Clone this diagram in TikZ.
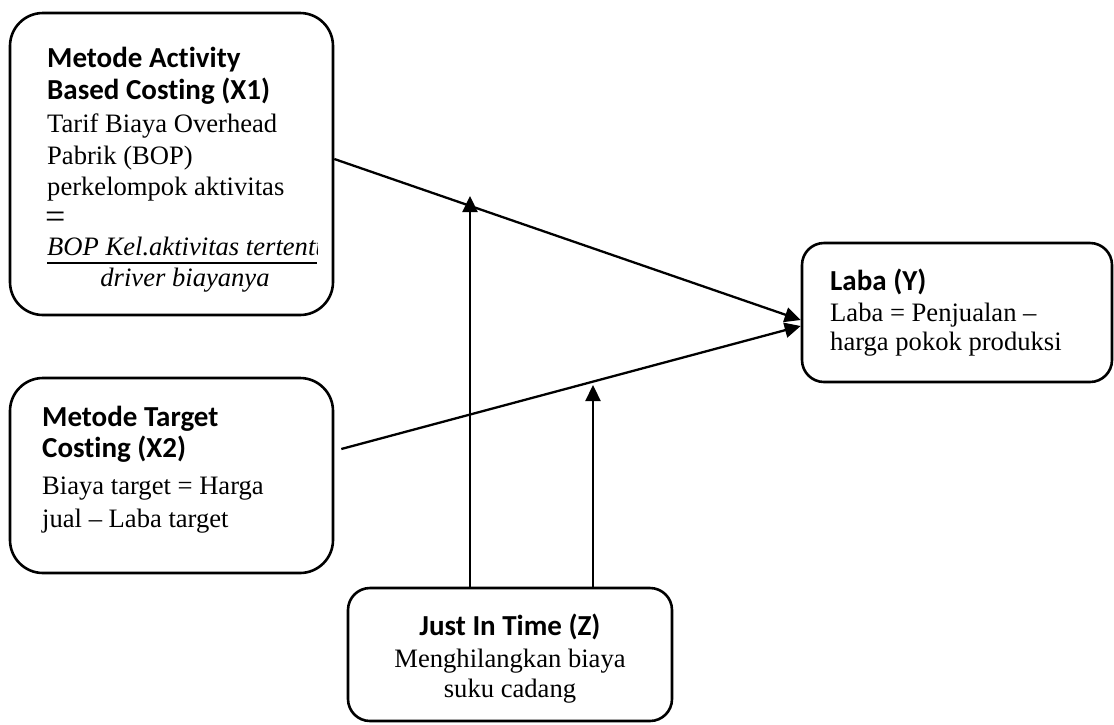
\documentclass[tikz,border=0pt]{standalone}
\usepackage{fontspec}
\setmainfont{Liberation Serif}
\newfontfamily\hdfont{Carlito}[Ligatures=NoCommon]
\usetikzlibrary{arrows.meta}
\tikzset{
  bigbox/.style={draw, line width=2.6pt, rounded corners=33pt, inner sep=0pt},
  smallbox/.style={draw, line width=2.6pt, rounded corners=22pt, inner sep=0pt},
  hd/.style={anchor=base west, inner sep=0pt, font=\hdfont\bfseries\fontsize{29}{32}\selectfont},
  hdc/.style={anchor=base, inner sep=0pt, font=\hdfont\bfseries\fontsize{29}{32}\selectfont},
  tx/.style={anchor=base west, inner sep=0pt, font=\fontsize{26.6}{32}\selectfont},
  txc/.style={anchor=base, inner sep=0pt, font=\fontsize{26.6}{32}\selectfont},
  fm/.style={inner sep=0pt, font=\itshape\fontsize{26.6}{32}\selectfont},
  link/.style={line width=2.3pt, -{Triangle[length=16pt,width=15pt]}},
}
\begin{document}
\begin{tikzpicture}[x=1pt, y=-1pt]
\useasboundingbox (0,0) rectangle (1114,724);
% boxes
\node[bigbox, minimum width=323pt, minimum height=302pt] (x1) at (171.5,164) {};
\node[bigbox, minimum width=323pt, minimum height=195pt] (x2) at (171.5,475.5) {};
\node[smallbox, minimum width=310pt, minimum height=139pt] (y) at (957,312.5) {};
\node[smallbox, minimum width=324pt, minimum height=133pt] (z) at (510,654.5) {};
% X1 text
\node[hd] (x1a) at (47,67) {Metode Activity};
\node[hd] (x1b) at (47,99) {Based Costing (X1)};
\node[tx] (x1c) at (47,132) {Tarif Biaya Overhead};
\node[tx] (x1d) at (47,164) {Pabrik (BOP)};
\node[tx] (x1e) at (47,195) {perkelompok aktivitas};
\node[anchor=base west, inner sep=0pt, font=\fontsize{36}{40}\selectfont] (x1eq) at (45,228) {=};
\begin{scope}
  \clip (40,228) rectangle (317,268);
  \node[fm, anchor=base west] (x1num) at (47,255) {BOP Kel.aktivitas tertentu};
\end{scope}
\draw[line width=2.2pt] (47,263) -- (317,263);
\node[fm, anchor=base] (x1den) at (185,286) {driver biayanya};
% X2 text
\node[hd] (x2a) at (42,426) {Metode Target};
\node[hd] (x2b) at (42,457) {Costing (X2)};
\node[tx] (x2c) at (42,494) {Biaya target = Harga};
\node[tx] (x2d) at (42,527) {jual – Laba target};
% Y text
\node[hd] (ya) at (830,290) {Laba (Y)};
\node[tx] (yb) at (830,321) {Laba = Penjualan –};
\node[tx] (yc) at (830,350) {harga pokok produksi};
% Z text
\node[hdc] (za) at (510,635) {Just In Time (Z)};
\node[txc] (zb) at (510,667) {Menghilangkan biaya};
\node[txc] (zc) at (510,697) {suku cadang};
% connectors
\coordinate (t1) at (470,196);
\coordinate (t2) at (593,385);
\draw[link] ([yshift=5pt]x1.east) -- ([yshift=-7.5pt]y.west);
\draw[link] ([xshift=7pt,yshift=26.5pt]x2.east) -- ([yshift=-13.5pt]y.west);
\draw[link] ([xshift=-40pt]z.north) -- (t1);
\draw[link] ([xshift=83pt]z.north) -- (t2);
\end{tikzpicture}
\end{document}
